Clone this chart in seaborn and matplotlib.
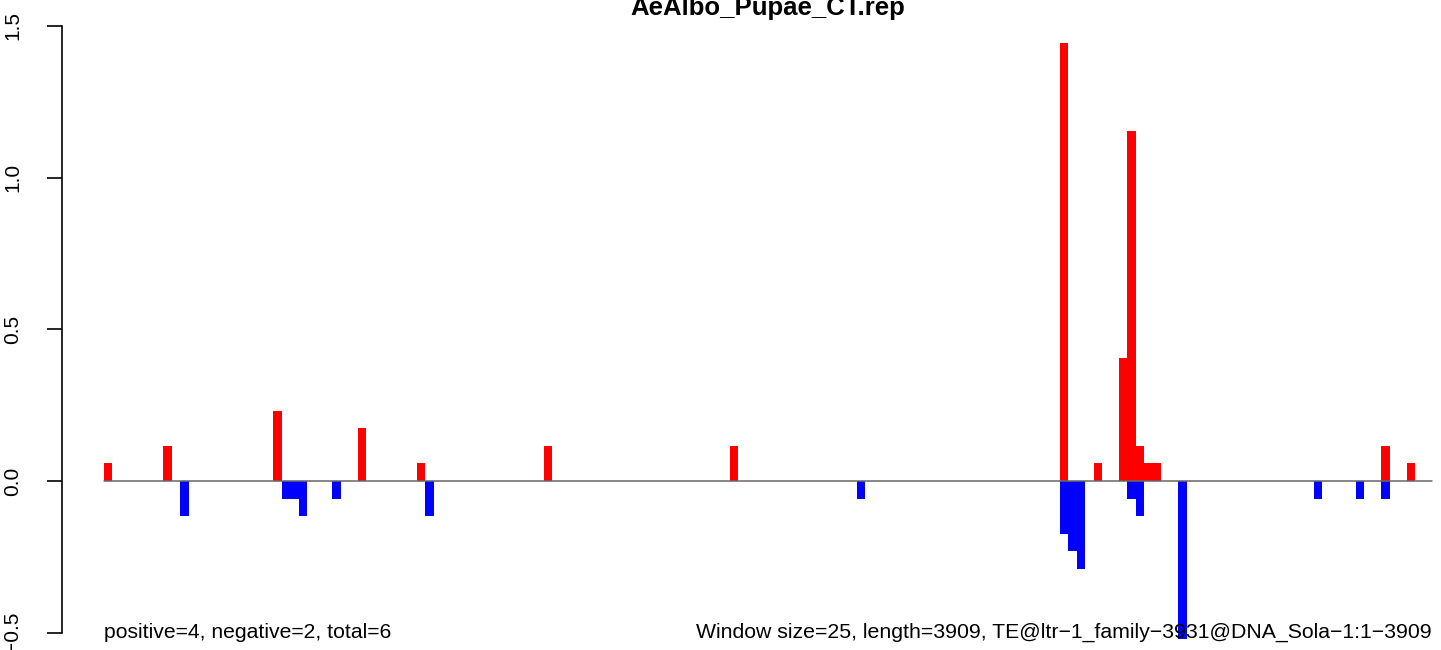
import numpy as np
import pandas as pd
import matplotlib
matplotlib.use('Agg')
import matplotlib.pyplot as plt
import seaborn as sns


# Windows (25 bp each) carrying reads on the plus strand, and their values
pos_windows = [0, 7, 20, 30, 37, 52, 74, 113, 117, 120, 121, 122, 123, 124, 151, 154]
pos_values = [0.0577, 0.1154, 0.2309, 0.1731, 0.0577, 0.1154, 0.1154, 1.4430,
              0.0577, 0.4040, 1.1544, 0.1154, 0.0577, 0.0577, 0.1154, 0.0577]

# Windows carrying reads on the minus strand
neg_windows = [9, 21, 22, 23, 27, 38, 89, 113, 114, 115, 121, 122, 127, 143, 148, 151]
neg_values = [-0.1154, -0.0577, -0.0577, -0.1154, -0.0577, -0.1154, -0.0577, -0.1731,
              -0.2309, -0.2886, -0.0577, -0.1154, -0.5195, -0.0577, -0.0577, -0.0577]

n_windows = 157
yticks = [-0.5, 0.0, 0.5, 1.0, 1.5]
title = 'AeAlbo_Pupae_CT.rep'
left_note = 'positive=4, negative=2, total=6'
right_note = ('Window size=25, length=3909, '
              'TE@ltr\u22121_family\u22123931@DNA_Sola\u22121:1\u22123909')


# Long table for seaborn, bars centred in the middle of their window
df_pos = pd.DataFrame({'window': pos_windows, 'value': pos_values, 'strand': 'plus'})
df_neg = pd.DataFrame({'window': neg_windows, 'value': neg_values, 'strand': 'minus'})
df = pd.concat([df_pos, df_neg], ignore_index=True)
df['x'] = df['window'] + 0.5


# Plot
sns_style = {
        'axes.grid': False,
        'axes.facecolor': 'white',
        'axes.edgecolor': 'black',
        'text.color': 'black',
        'ytick.color': 'black',
        }
sns.set_style("ticks", sns_style)
plt.rcParams['font.family'] = ['Liberation Sans', 'DejaVu Sans']
plt.rcParams['text.color'] = 'black'

fig = plt.figure(figsize=(14.41, 6.5), dpi=100)
ax = fig.add_axes([62 / 1441, 0.0, 1412 / 1441, 1.0])

sns.barplot(data=df, x='x', y='value', hue='strand',
            palette={'plus': '#ff0000', 'minus': '#0000ff'},
            native_scale=True, dodge=False, width=1.0,
            errorbar=None, saturation=1, legend=False,
            linewidth=0, ax=ax)

for patch in ax.patches:
    patch.set_antialiased(False)

# Zero line over the whole sequence
ax.plot([0, n_windows], [0, 0], color='#666666', lw=1.1, zorder=5)

# Limits (the plot region runs past the right edge of the figure, as in R)
ax.set_xlim(-42 / 8.46, n_windows + 42 / 8.46)
ax.set_ylim(-169 / 303.5, 481 / 303.5)

# Axes: only a left axis spanning the tick range
for side in ['top', 'right', 'bottom']:
    ax.spines[side].set_visible(False)
ax.spines['left'].set_bounds(yticks[0], yticks[-1])
ax.spines['left'].set_linewidth(1.2)
ax.set_xticks([])
ax.set_xlabel('')
ax.set_ylabel('')
ax.set_yticks(yticks)
ax.set_yticklabels([f'{t:.1f}'.replace('-', '\u2212') for t in yticks],
                   rotation=90, va='center')
ax.tick_params(axis='y', left=True, length=10.8, width=1.2, pad=18,
               labelsize=15, labelcolor='black', color='black')

# Notes along the bottom and title
ax.text(0, -0.5, left_note, ha='left', va='center', fontsize=15.2,
        color='black', zorder=6)
ax.text(n_windows, -0.5, right_note, ha='right', va='center', fontsize=15.3,
        color='black', zorder=6)
fig.text(768 / 1441, 1 - 15 / 650, title, ha='center', va='baseline',
         fontsize=18.5, fontweight='bold', color='black')

fig.savefig('out.png', dpi=100)
